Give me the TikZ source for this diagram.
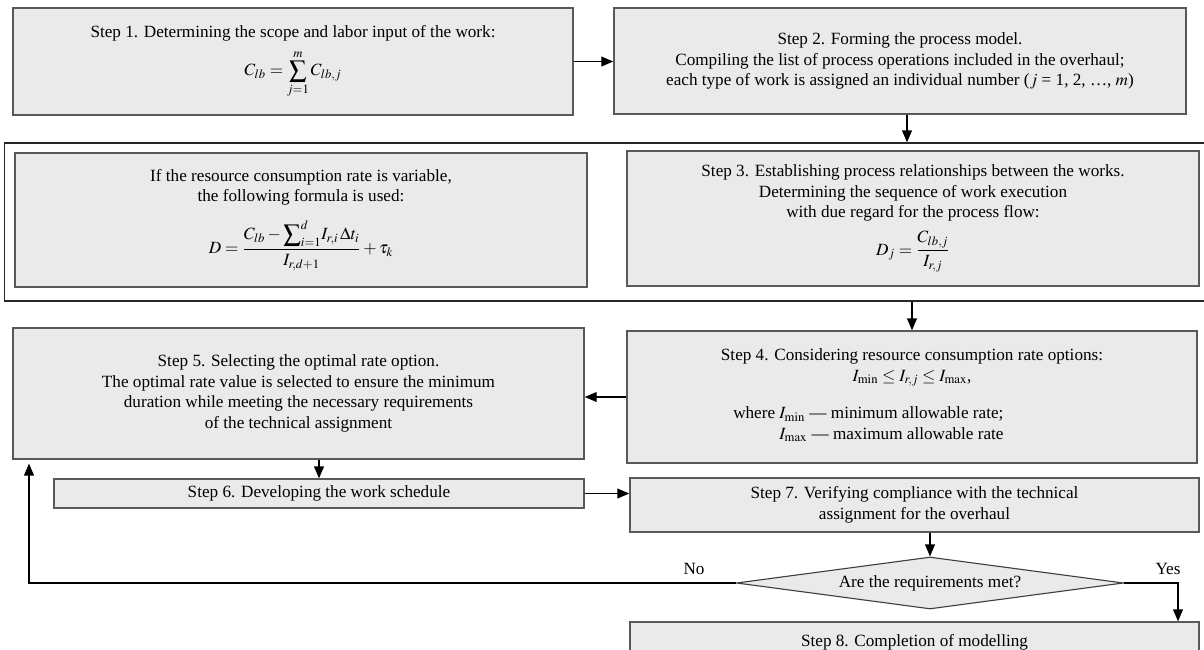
\documentclass[tikz,border=0pt]{standalone}
\usepackage{mathptmx}
\usepackage{fontspec}
\setmainfont{Liberation Serif}
\usetikzlibrary{shapes,arrows.meta,positioning,calc}
\definecolor{boxgray}{RGB}{234,234,234}
\tikzset{
	>={Triangle[length=8.5pt,width=7pt]}, semithick,
	stepbox/.style ={rectangle, draw=black!65, line width=0.9pt, fill=boxgray, align=center, inner sep=2pt, font=\fontsize{12.2}{14.6}\selectfont},
	frame/.style = {rectangle, draw=black!85, line width=0.9pt},
	cond/.style = {diamond, draw=black!75, line width=0.8pt, fill=boxgray, inner sep=0pt, shape aspect=7.4, font=\fontsize{12.2}{14.6}\selectfont},
	flow/.style = {->, line width=0.9pt, black},
	lbl/.style = {inner sep=1pt, font=\fontsize{12.2}{14.6}\selectfont}
}

\begin{document}
\begin{tikzpicture}[x=0.025cm,y=-0.025cm]

    \useasboundingbox (0,0) rectangle (1204,650);
    \clip (0,0) rectangle (1204,650);

    \node[stepbox, minimum width=14cm, minimum height=2.675cm] (1) at (293,61.5) {Step 1. Determining the scope and labor input of the work:\\[5pt] $\displaystyle C_{lb}=\sum_{j=1}^{m}C_{lb,j}$};
    \node[stepbox, minimum width=14.3cm, minimum height=2.65cm] (2) at (900,61) {Step 2. Forming the process model.\\ Compiling the list of process operations included in the overhaul;\\ each type of work is assigned an individual number ($j$ = 1, 2, …, $m$)};

    \node[frame, minimum width=30.175cm, minimum height=3.95cm] (frame) at (608.5,222) {};
    \node[stepbox, minimum width=14.3cm, minimum height=3.35cm] (d) at (301,220) {If the resource consumption rate is variable,\\ the following formula is used:\\[10pt] $\displaystyle D=\frac{C_{lb}-{\displaystyle\sum\nolimits_{i=1}^{d}}I_{r,i}\,\Delta t_i}{I_{r,d+1}}+\tau_k$};
    \node[stepbox, minimum width=14.3cm, minimum height=3.375cm] (3) at (913,218.5) {Step 3. Establishing process relationships between the works.\\ Determining the sequence of work execution\\ with due regard for the process flow:\\[6pt] $\displaystyle D_j=\frac{C_{lb,j}}{I_{r,j}}$};

    \node[stepbox, minimum width=14.25cm, minimum height=3.3cm] (4) at (912,397) {Step 4. Considering resource consumption rate options:\\ $I_{\min}\le I_{r,j}\le I_{\max}$,\\[12pt] \begin{tabular}[t]{@{}r@{ }l@{}}where & $I_{\min}$ — minimum allowable rate;\\ & $I_{\max}$ — maximum allowable rate\end{tabular}\hspace*{62pt}};
    \node[stepbox, minimum width=14.275cm, minimum height=3.275cm] (5) at (298.5,393.5) {Step 5. Selecting the optimal rate option.\\ The optimal rate value is selected to ensure the minimum\\ duration while meeting the necessary requirements\\ of the technical assignment};

    \node[stepbox, minimum width=13.25cm, minimum height=0.725cm] (6) at (319,493.5) {Step 6. Developing the work schedule};
    \node[stepbox, minimum width=14.225cm, minimum height=1.35cm] (7) at (914.5,505) {Step 7. Verifying compliance with the technical\\ assignment for the overhaul};
    \node[cond, minimum width=9.675cm, minimum height=1.3cm] (q) at (930,583) {Are the requirements met?};
    \node[stepbox, minimum width=14.225cm, minimum height=1cm] (8) at (914.5,642) {Step 8. Completion of modelling};

    \node[lbl] (no) at (694,569) {No};
    \node[lbl] (yes) at (1168,569) {Yes};
    \coordinate (back) at (29,583);
    \coordinate (down) at (1178,583);

    \draw[flow] (1.east) -- (1.east -| 2.west);
    \draw[flow] ([xshift=5pt]2.south) -- ([xshift=5pt]2.south |- frame.north);
    \draw[flow] (4.north |- frame.south) -- (4.north);
    \draw[flow] (4.west) -- (4.west -| 5.east);
    \draw[flow] (5.south -| 6.north) -- (6.north);
    \draw[flow] (6.east) -- (6.east -| 7.west);
    \draw[flow] (7.south -| q.north) -- (q.north);
    \draw[flow, shorten >=2.8pt] (q.west) -- (back) -- (back |- 5.south);
    \draw[flow] (q.east) -- (down) -- (down |- 8.north);

\end{tikzpicture}
\end{document}
